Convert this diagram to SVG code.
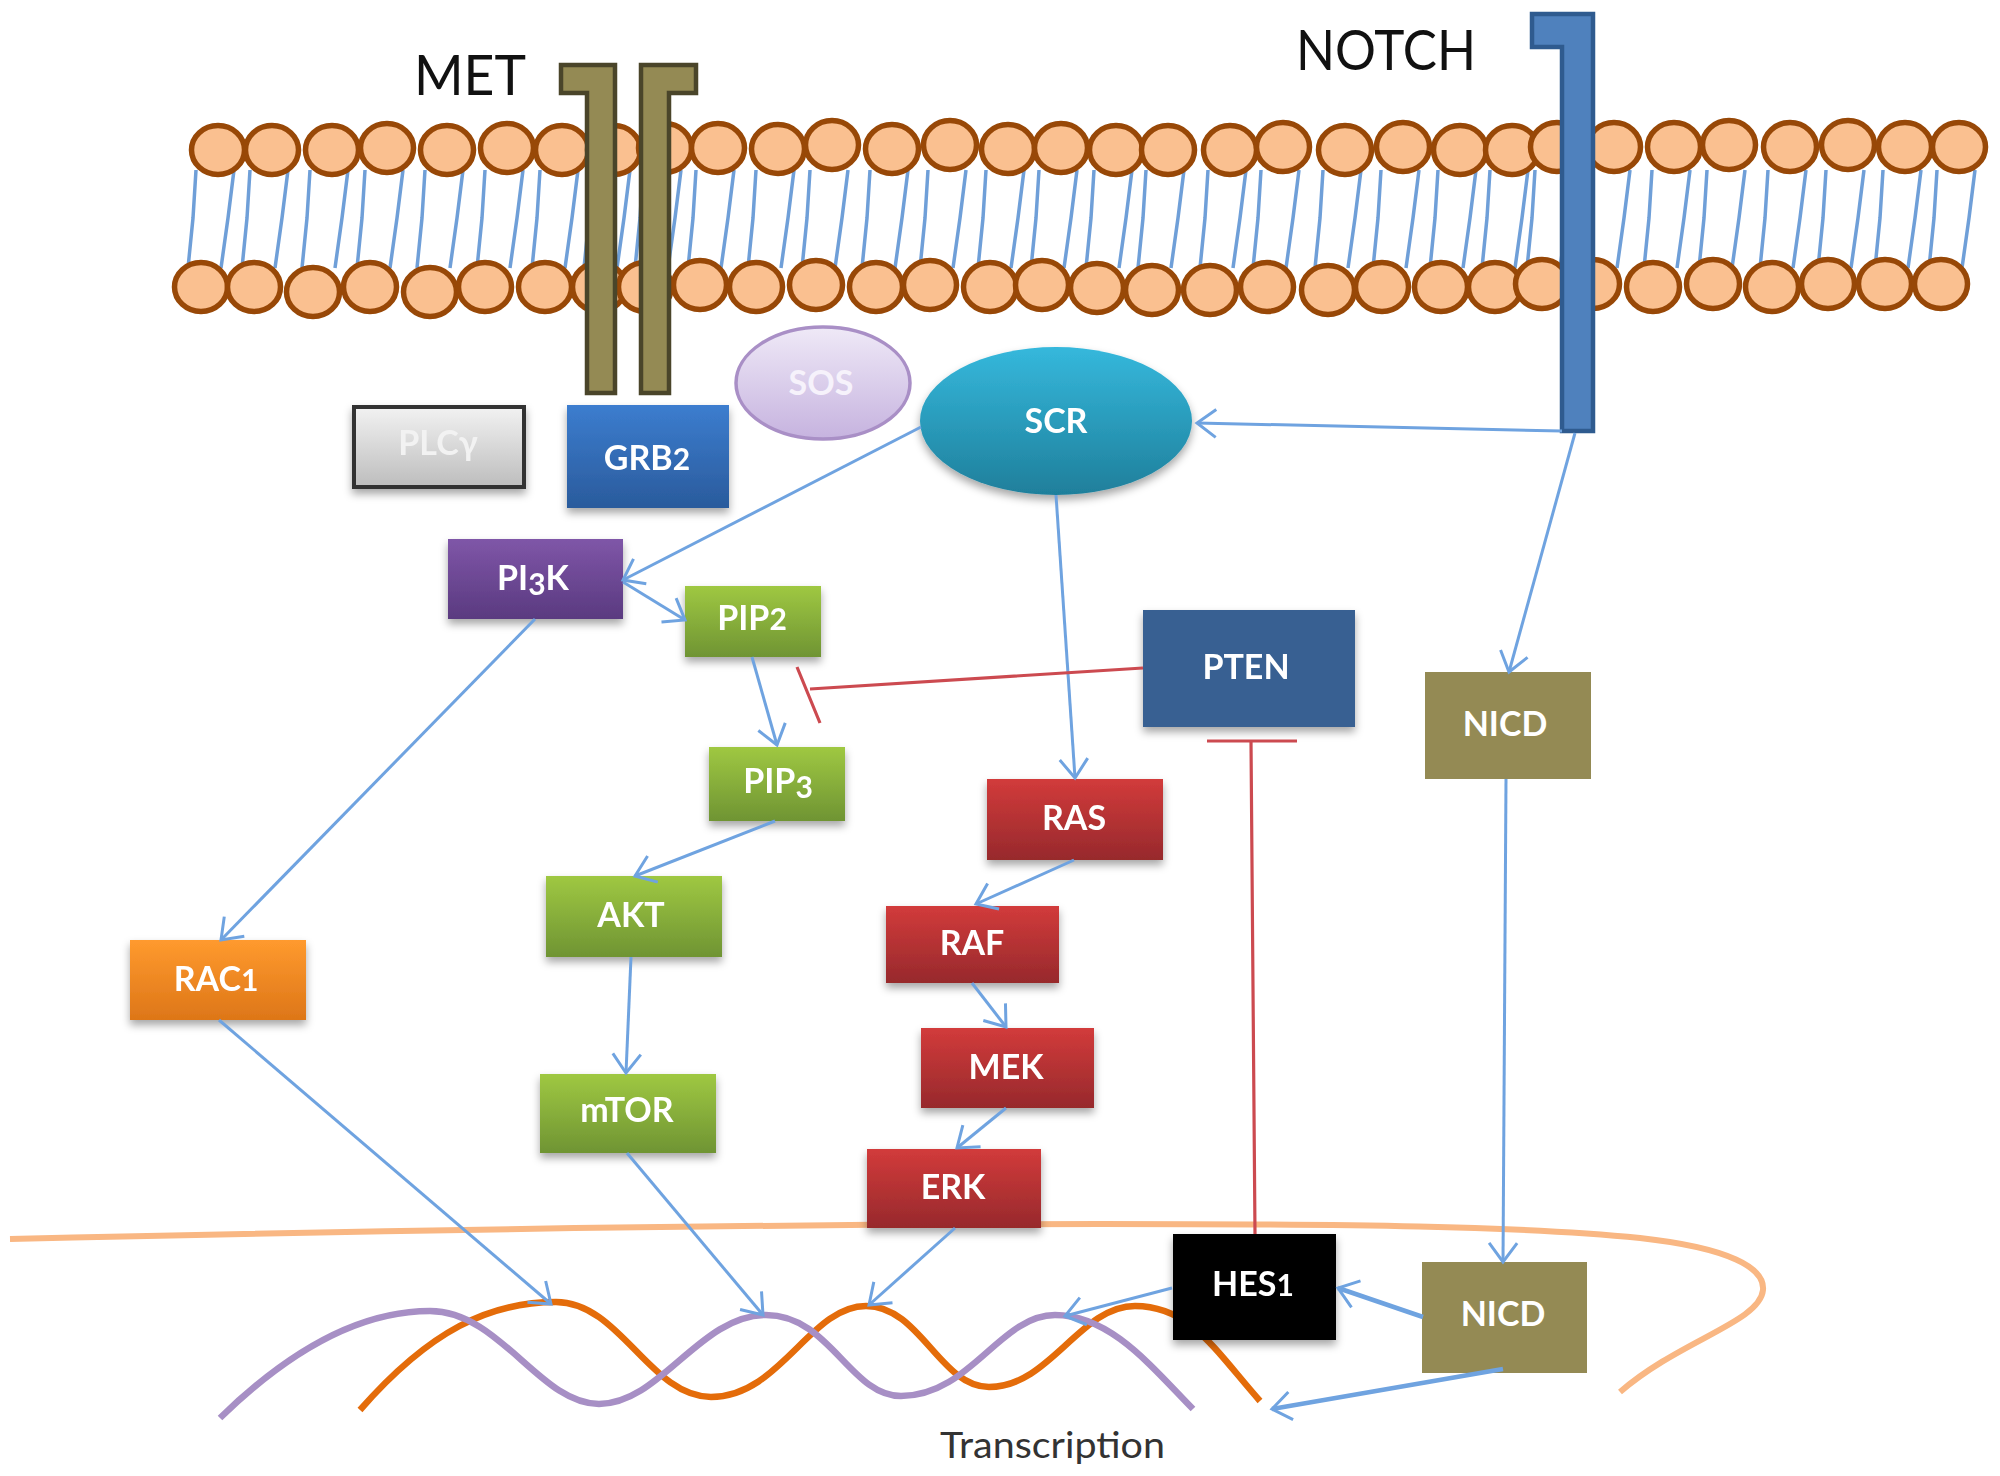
<svg xmlns="http://www.w3.org/2000/svg" width="2000" height="1476" viewBox="0 0 2000 1476">
<style>
text{font-family:"Lato","Liberation Sans",sans-serif}
.h{fill:#fac090;stroke:#984807;stroke-width:5.5}
.tail{fill:none;stroke:#6f9fd8;stroke-width:3.5}
.lbl{font-weight:700;font-size:34px;fill:#fff;text-anchor:middle}
.big{font-size:56px;fill:#111}
.a{fill:none;stroke:#6fa3e0;stroke-width:3;marker-end:url(#arr)}
.at{stroke-width:4.5}
.i{fill:none;stroke:#cc4a50;stroke-width:3.2}
.sub{font-size:30px}
.box{filter:url(#sh)}
</style>
<defs>
<filter id="sh" x="-15%" y="-15%" width="130%" height="140%"><feDropShadow dx="0" dy="5" stdDeviation="4" flood-color="#000" flood-opacity=".35"/></filter>
<marker id="arr" markerUnits="userSpaceOnUse" markerWidth="40" markerHeight="40" viewBox="-30 -20 40 40" refX="0" refY="0" orient="auto"><path d="M-19-14 0 0-19 14" fill="none" stroke="#6fa3e0" stroke-width="3"/></marker>
<linearGradient id="gGreen" x1="0" y1="0" x2="0" y2="1"><stop offset="0" stop-color="#9fc842"/><stop offset="1" stop-color="#6f9433"/></linearGradient>
<linearGradient id="gRed" x1="0" y1="0" x2="0" y2="1"><stop offset="0" stop-color="#d23b3b"/><stop offset="1" stop-color="#97292c"/></linearGradient>
<linearGradient id="gPur" x1="0" y1="0" x2="0" y2="1"><stop offset="0" stop-color="#7f56a8"/><stop offset="1" stop-color="#5a3a80"/></linearGradient>
<linearGradient id="gOr" x1="0" y1="0" x2="0" y2="1"><stop offset="0" stop-color="#ff9a2e"/><stop offset="1" stop-color="#dd7618"/></linearGradient>
<linearGradient id="gBlue" x1="0" y1="0" x2="0" y2="1"><stop offset="0" stop-color="#3c7dcf"/><stop offset="1" stop-color="#2a5b9c"/></linearGradient>
<linearGradient id="gGray" x1="0" y1="0" x2="0" y2="1"><stop offset="0" stop-color="#f2f2f2"/><stop offset="1" stop-color="#bdbdbd"/></linearGradient>
<linearGradient id="gLil" x1="0" y1="0" x2="0" y2="1"><stop offset="0" stop-color="#efe9f7"/><stop offset="1" stop-color="#c6b3df"/></linearGradient>
<linearGradient id="gCy" x1="0" y1="0" x2="0" y2="1"><stop offset="0" stop-color="#35b8dc"/><stop offset="1" stop-color="#1f7f9b"/></linearGradient>
<path id="t" class="tail" d="M-22 170l-3 48-5 50M16 170l-6 48-7 50"/>
</defs>
<rect width="2000" height="1476" fill="#fff"/>
<g id="membrane">
<g id="tails">
<use href="#t" x="218"/><use href="#t" x="272"/><use href="#t" x="332"/><use href="#t" x="387"/><use href="#t" x="447"/><use href="#t" x="507"/><use href="#t" x="562"/><use href="#t" x="614"/><use href="#t" x="665"/><use href="#t" x="718"/><use href="#t" x="778"/><use href="#t" x="832"/><use href="#t" x="892"/><use href="#t" x="950"/><use href="#t" x="1008"/><use href="#t" x="1061"/><use href="#t" x="1116"/><use href="#t" x="1168"/><use href="#t" x="1230"/><use href="#t" x="1283"/><use href="#t" x="1345"/><use href="#t" x="1403"/><use href="#t" x="1460"/><use href="#t" x="1512"/><use href="#t" x="1557"/><use href="#t" x="1614"/><use href="#t" x="1674"/><use href="#t" x="1729"/><use href="#t" x="1790"/><use href="#t" x="1848"/><use href="#t" x="1905"/><use href="#t" x="1959"/>
</g>
<g id="heads-top">
<ellipse class="h" cx="218" cy="150" rx="26.5" ry="24.5"/><ellipse class="h" cx="272" cy="150" rx="26.5" ry="24.5"/><ellipse class="h" cx="332" cy="150" rx="26.5" ry="24.5"/><ellipse class="h" cx="387" cy="148" rx="26.5" ry="24.5"/><ellipse class="h" cx="447" cy="150" rx="26.5" ry="24.5"/><ellipse class="h" cx="507" cy="148" rx="26.5" ry="24.5"/><ellipse class="h" cx="562" cy="150" rx="26.5" ry="24.5"/><ellipse class="h" cx="614" cy="150" rx="26.5" ry="24.5"/><ellipse class="h" cx="665" cy="148" rx="26.5" ry="24.5"/><ellipse class="h" cx="718" cy="148" rx="26.5" ry="24.5"/><ellipse class="h" cx="778" cy="149" rx="26.5" ry="24.5"/><ellipse class="h" cx="832" cy="145" rx="26.5" ry="24.5"/><ellipse class="h" cx="892" cy="149" rx="26.5" ry="24.5"/><ellipse class="h" cx="950" cy="145" rx="26.5" ry="24.5"/><ellipse class="h" cx="1008" cy="149" rx="26.5" ry="24.5"/><ellipse class="h" cx="1061" cy="148" rx="26.5" ry="24.5"/><ellipse class="h" cx="1116" cy="150" rx="26.5" ry="24.5"/><ellipse class="h" cx="1168" cy="150" rx="26.5" ry="24.5"/><ellipse class="h" cx="1230" cy="150" rx="26.5" ry="24.5"/><ellipse class="h" cx="1283" cy="147" rx="26.5" ry="24.5"/><ellipse class="h" cx="1345" cy="150" rx="26.5" ry="24.5"/><ellipse class="h" cx="1403" cy="147" rx="26.5" ry="24.5"/><ellipse class="h" cx="1460" cy="150" rx="26.5" ry="24.5"/><ellipse class="h" cx="1512" cy="150" rx="26.5" ry="24.5"/><ellipse class="h" cx="1557" cy="147" rx="26.5" ry="24.5"/><ellipse class="h" cx="1614" cy="147" rx="26.5" ry="24.5"/><ellipse class="h" cx="1674" cy="147" rx="26.5" ry="24.5"/><ellipse class="h" cx="1729" cy="145" rx="26.5" ry="24.5"/><ellipse class="h" cx="1790" cy="147" rx="26.5" ry="24.5"/><ellipse class="h" cx="1848" cy="145" rx="26.5" ry="24.5"/><ellipse class="h" cx="1905" cy="147" rx="26.5" ry="24.5"/><ellipse class="h" cx="1959" cy="147" rx="26.5" ry="24.5"/>
</g>
<g id="heads-bottom">
<ellipse class="h" cx="201" cy="287" rx="26.5" ry="24.5"/><ellipse class="h" cx="254" cy="287" rx="26.5" ry="24.5"/><ellipse class="h" cx="313" cy="292" rx="26.5" ry="24.5"/><ellipse class="h" cx="370" cy="287" rx="26.5" ry="24.5"/><ellipse class="h" cx="430" cy="292" rx="26.5" ry="24.5"/><ellipse class="h" cx="485" cy="287" rx="26.5" ry="24.5"/><ellipse class="h" cx="545" cy="287" rx="26.5" ry="24.5"/><ellipse class="h" cx="599" cy="287" rx="26.5" ry="24.5"/><ellipse class="h" cx="645" cy="287" rx="26.5" ry="24.5"/><ellipse class="h" cx="700" cy="285" rx="26.5" ry="24.5"/><ellipse class="h" cx="756" cy="287" rx="26.5" ry="24.5"/><ellipse class="h" cx="816" cy="285" rx="26.5" ry="24.5"/><ellipse class="h" cx="876" cy="287" rx="26.5" ry="24.5"/><ellipse class="h" cx="930" cy="285" rx="26.5" ry="24.5"/><ellipse class="h" cx="990" cy="287" rx="26.5" ry="24.5"/><ellipse class="h" cx="1042" cy="285" rx="26.5" ry="24.5"/><ellipse class="h" cx="1097" cy="288" rx="26.5" ry="24.5"/><ellipse class="h" cx="1152" cy="290" rx="26.5" ry="24.5"/><ellipse class="h" cx="1210" cy="290" rx="26.5" ry="24.5"/><ellipse class="h" cx="1267" cy="287" rx="26.5" ry="24.5"/><ellipse class="h" cx="1328" cy="290" rx="26.5" ry="24.5"/><ellipse class="h" cx="1382" cy="287" rx="26.5" ry="24.5"/><ellipse class="h" cx="1441" cy="287" rx="26.5" ry="24.5"/><ellipse class="h" cx="1495" cy="287" rx="26.5" ry="24.5"/><ellipse class="h" cx="1542" cy="284" rx="26.5" ry="24.5"/><ellipse class="h" cx="1593" cy="284" rx="26.5" ry="24.5"/><ellipse class="h" cx="1653" cy="287" rx="26.5" ry="24.5"/><ellipse class="h" cx="1713" cy="284" rx="26.5" ry="24.5"/><ellipse class="h" cx="1772" cy="287" rx="26.5" ry="24.5"/><ellipse class="h" cx="1828" cy="284" rx="26.5" ry="24.5"/><ellipse class="h" cx="1885" cy="284" rx="26.5" ry="24.5"/><ellipse class="h" cx="1941" cy="284" rx="26.5" ry="24.5"/>
</g>
</g>
<path id="nucleus" d="M10 1239C400 1230 800 1224 1100 1224C1350 1224 1520 1226 1640 1238C1730 1248 1765 1268 1763 1290C1760 1322 1680 1340 1620 1392" fill="none" stroke="#f9b783" stroke-width="6"/>
<g id="dna" fill="none" stroke-width="6.5">
<path stroke="#e46c0a" d="M360 1410C430 1330 490 1302 556 1302C620 1302 650 1397 711 1397C780 1397 810 1306 866 1306C920 1306 940 1387 989 1387C1050 1387 1080 1306 1135 1306C1190 1306 1215 1350 1260 1401"/>
<path stroke="#a78fc5" d="M220 1418C300 1340 370 1311 430 1311C500 1311 540 1404 599 1404C660 1404 700 1315 766 1315C830 1315 850 1396 901 1396C970 1396 1000 1315 1055 1315C1110 1315 1150 1365 1193 1409"/>
</g>
<g id="MET">
<path d="M561 65H615V393H587V93H561Z M696 65H641V393H669V93H696Z" fill="#948a54" stroke="#4a452a" stroke-width="4.5"/>
<text class="big" x="414" y="95" textLength="112" lengthAdjust="spacingAndGlyphs">MET</text>
</g>
<g id="NOTCH">
<path d="M1532 14H1593V431H1562V47H1532Z" fill="#4f81bd" stroke="#2f5b8f" stroke-width="4.5"/>
<text class="big" x="1296" y="70" textLength="180" lengthAdjust="spacingAndGlyphs">NOTCH</text>
</g>
<g id="PLCy" class="box"><rect x="354" y="407" width="170" height="80" fill="url(#gGray)" stroke="#333" stroke-width="4"/><text class="lbl" x="438" y="455" style="fill:#f2f2f2">PLCγ</text></g>
<g id="GRB2" class="box"><rect x="567" y="405" width="162" height="103" fill="url(#gBlue)"/><text class="lbl" x="647" y="470">GRB<tspan class="sub">2</tspan></text></g>
<g id="SOS"><ellipse cx="823" cy="383" rx="87" ry="56" fill="url(#gLil)" stroke="#a98fc6" stroke-width="3.5"/><text class="lbl" x="821" y="395" style="fill:#f6f2fb">SOS</text></g>
<g id="SCR" class="box"><ellipse cx="1056" cy="421" rx="136" ry="74" fill="url(#gCy)"/><text class="lbl" x="1056" y="433">SCR</text></g>
<g id="PI3K" class="box"><rect x="448" y="539" width="175" height="80" fill="url(#gPur)"/><text class="lbl" x="533" y="590">PI<tspan class="sub" dy="5">3</tspan><tspan dy="-5">K</tspan></text></g>
<g id="PIP2" class="box"><rect x="685" y="586" width="136" height="71" fill="url(#gGreen)"/><text class="lbl" x="752" y="630">PIP<tspan class="sub">2</tspan></text></g>
<g id="PIP3" class="box"><rect x="709" y="747" width="136" height="74" fill="url(#gGreen)"/><text class="lbl" x="778" y="793">PIP<tspan class="sub" dy="5">3</tspan></text></g>
<g id="AKT" class="box"><rect x="546" y="876" width="176" height="81" fill="url(#gGreen)"/><text class="lbl" x="631" y="927">AKT</text></g>
<g id="mTOR" class="box"><rect x="540" y="1074" width="176" height="79" fill="url(#gGreen)"/><text class="lbl" x="627" y="1122">mTOR</text></g>
<g id="RAC1" class="box"><rect x="130" y="940" width="176" height="80" fill="url(#gOr)"/><text class="lbl" x="216" y="991">RAC<tspan class="sub">1</tspan></text></g>
<g id="RAS" class="box"><rect x="987" y="779" width="176" height="81" fill="url(#gRed)"/><text class="lbl" x="1074" y="830">RAS</text></g>
<g id="RAF" class="box"><rect x="886" y="906" width="173" height="77" fill="url(#gRed)"/><text class="lbl" x="972" y="955">RAF</text></g>
<g id="MEK" class="box"><rect x="921" y="1028" width="173" height="80" fill="url(#gRed)"/><text class="lbl" x="1006" y="1079">MEK</text></g>
<g id="ERK" class="box"><rect x="867" y="1149" width="174" height="79" fill="url(#gRed)"/><text class="lbl" x="953" y="1199">ERK</text></g>
<g id="PTEN" class="box"><rect x="1143" y="610" width="212" height="117" fill="#376092"/><text class="lbl" x="1246" y="679">PTEN</text></g>
<g id="NICD-top"><rect x="1425" y="672" width="166" height="107" fill="#948a54"/><text class="lbl" x="1505" y="736">NICD</text></g>
<g id="HES1" class="box"><rect x="1173" y="1234" width="163" height="106" fill="#000"/><text class="lbl" x="1253" y="1296">HES<tspan class="sub">1</tspan></text></g>
<g id="NICD-bottom"><rect x="1422" y="1262" width="165" height="111" fill="#948a54"/><text class="lbl" x="1503" y="1326">NICD</text></g>
<text id="Transcription" x="940" y="1458" textLength="225" lengthAdjust="spacingAndGlyphs" font-size="37" fill="#333">Transcription</text>
<g id="connectors">
<path class="a" d="M1562 431 1197 423"/>
<path class="a" d="M1575 433 1509 672"/>
<path class="a" d="M921 427 623 580"/>
<path class="a" d="M623 582 685 620"/>
<path class="a" d="M535 619 221 940"/>
<path class="a" d="M752 657 777 745"/>
<path class="a" d="M775 821 635 876"/>
<path class="a" d="M631 957 626 1073"/>
<path class="a" d="M1056 495 1075 778"/>
<path class="a" d="M1074 860 976 904"/>
<path class="a" d="M972 983 1006 1027"/>
<path class="a" d="M1006 1108 957 1148"/>
<path class="a" d="M1506 779 1503 1262"/>
<path class="a" d="M219 1020 551 1304"/>
<path class="a" d="M627 1153 763 1315"/>
<path class="a" d="M955 1228 869 1305"/>
<path class="a at" d="M1423 1317 1338 1288"/>
<path class="a" d="M1172 1288 1065 1316"/>
<path class="a at" d="M1503 1369 1272 1409"/>
<path class="i" d="M1143 668 810 689M797 667 820 723"/>
<path class="i" d="M1255 1234 1251 741M1207 741H1297"/>
</g>
</svg>
